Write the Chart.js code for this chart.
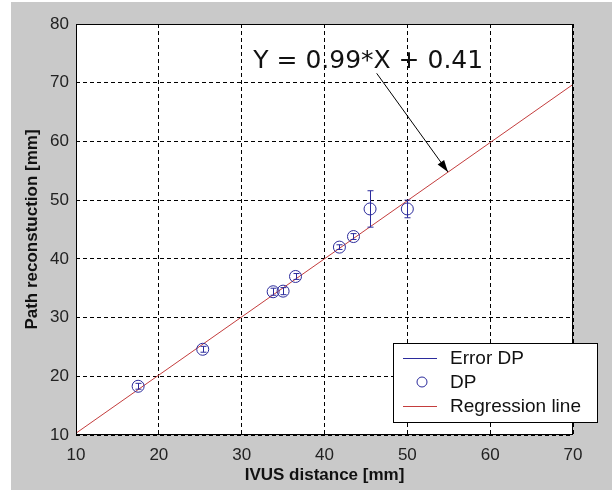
<!DOCTYPE html>
<html lang="en">
<head>
    <meta charset="UTF-8" />
    <title>IVUS distance x Path reconstruction</title>
    <script src="https://cdn.jsdelivr.net/npm/chart.js@4"></script>
    <style>
        html, body { margin: 0; padding: 0; background: #fff; }
        #wrap { width: 612px; height: 490px; }
    </style>
</head>
<body>
<div id="wrap"><canvas id="grafico" width="612" height="490"></canvas></div>

<script>
    // pontos medidos: distancia IVUS (x) e caminho reconstruido (y), em mm
    const ivus = [17.5, 25.3, 33.8, 35.0, 36.5, 41.8, 43.5, 45.5, 50.0];
    const caminho = [18.3, 24.6, 34.4, 34.5, 37.0, 42.0, 43.8, 48.5, 48.5];
    // limites das barras de erro
    const erroBaixo = [17.8, 24.1, 33.8, 33.9, 36.5, 41.6, 43.3, 45.4, 47.0];
    const erroAlto = [18.8, 25.1, 35.0, 35.1, 37.5, 42.4, 44.3, 51.6, 50.0];

    // reta de regressao Y = 0.99*X + 0.41
    const regX = [10, 70];
    const regY = [10.31, 69.71];

    const ticksX = [10, 20, 30, 40, 50, 60, 70];
    const ticksY = [10, 20, 30, 40, 50, 60, 70, 80];

    const legendas = ['Error DP', 'DP', 'Regression line'];
    const textoEquacao = 'Y = 0.99*X + 0.41';

    const corPonto = '#2b2b9c';
    const corReta = '#c43d3d';
    const fonte = '"Liberation Sans", Arial, sans-serif';

    // fundo cinza + area branca
    const fundo = {
        id: 'fundo',
        beforeDraw(chart) {
            const ctx = chart.ctx;
            const a = chart.chartArea;
            ctx.save();
            ctx.fillStyle = '#ffffff';
            ctx.fillRect(0, 0, chart.width, chart.height);
            ctx.fillStyle = '#c9c9c9';
            ctx.fillRect(11, 2, chart.width - 11, chart.height - 2);
            ctx.fillStyle = '#ffffff';
            ctx.fillRect(a.left, a.top, a.right - a.left, a.bottom - a.top);
            ctx.restore();
        }
    };

    // barras de erro desenhadas com as escalas do grafico
    const barrasErro = {
        id: 'barrasErro',
        afterDatasetsDraw(chart) {
            const ctx = chart.ctx;
            const sx = chart.scales.x;
            const sy = chart.scales.y;
            ctx.save();
            ctx.strokeStyle = corPonto;
            ctx.lineWidth = 1;
            for (let i = 0; i < ivus.length; i++) {
                const px = Math.round(sx.getPixelForValue(ivus[i])) + 0.5;
                const y1 = sy.getPixelForValue(erroBaixo[i]);
                const y2 = sy.getPixelForValue(erroAlto[i]);
                ctx.beginPath();
                ctx.moveTo(px, y1);
                ctx.lineTo(px, y2);
                ctx.moveTo(px - 3, y1);
                ctx.lineTo(px + 3, y1);
                ctx.moveTo(px - 3, y2);
                ctx.lineTo(px + 3, y2);
                ctx.stroke();
            }
            ctx.restore();
        }
    };

    // moldura, equacao com seta e legenda
    const extras = {
        id: 'extras',
        afterDraw(chart) {
            const ctx = chart.ctx;
            const a = chart.chartArea;
            const sx = chart.scales.x;
            const sy = chart.scales.y;
            ctx.save();

            ctx.strokeStyle = '#000';
            ctx.lineWidth = 1;
            ctx.strokeRect(a.left + 0.5, a.top + 0.5, a.right - a.left - 1, a.bottom - a.top - 1);

            // equacao
            ctx.fillStyle = '#111';
            ctx.font = '25px "DejaVu Sans", sans-serif';
            ctx.textBaseline = 'alphabetic';
            ctx.textAlign = 'left';
            ctx.fillText(textoEquacao, sx.getPixelForValue(31.4), sy.getPixelForValue(72.5));

            // seta ate a reta
            const x0 = sx.getPixelForValue(46.3), y0 = sy.getPixelForValue(71.6);
            const x1 = sx.getPixelForValue(54.9), y1 = sy.getPixelForValue(54.8);
            const ang = Math.atan2(y1 - y0, x1 - x0);
            ctx.strokeStyle = '#000';
            ctx.beginPath();
            ctx.moveTo(x0, y0);
            ctx.lineTo(x1, y1);
            ctx.stroke();
            ctx.fillStyle = '#000';
            ctx.beginPath();
            ctx.moveTo(x1, y1);
            ctx.lineTo(x1 - 12 * Math.cos(ang) + 4 * Math.sin(ang), y1 - 12 * Math.sin(ang) - 4 * Math.cos(ang));
            ctx.lineTo(x1 - 12 * Math.cos(ang) - 4 * Math.sin(ang), y1 - 12 * Math.sin(ang) + 4 * Math.cos(ang));
            ctx.closePath();
            ctx.fill();

            // legenda
            const lx = 393, ly = 343, lw = 204, lh = 79;
            ctx.fillStyle = '#fff';
            ctx.fillRect(lx, ly, lw, lh);
            ctx.strokeStyle = '#000';
            ctx.strokeRect(lx + 0.5, ly + 0.5, lw, lh);
            const linhas = [358, 382, 406];
            ctx.font = '19px ' + fonte;
            ctx.textBaseline = 'middle';
            for (let i = 0; i < legendas.length; i++) {
                const yy = linhas[i];
                if (i === 1) {
                    ctx.strokeStyle = corPonto;
                    ctx.beginPath();
                    ctx.arc(422, yy, 5, 0, Math.PI * 2);
                    ctx.stroke();
                } else {
                    ctx.strokeStyle = i === 0 ? corPonto : corReta;
                    ctx.beginPath();
                    ctx.moveTo(403, yy + 0.5);
                    ctx.lineTo(437, yy + 0.5);
                    ctx.stroke();
                }
                ctx.fillStyle = '#111';
                ctx.fillText(legendas[i], 450, yy + 1);
            }
            ctx.restore();
        }
    };

    const pontos = ivus.map((v, i) => ({ x: v, y: caminho[i] }));
    const reta = regX.map((v, i) => ({ x: v, y: regY[i] }));

    const config = {
        type: 'scatter',
        data: {
            datasets: [{
                label: 'DP',
                data: pontos,
                order: 0,
                showLine: false,
                pointStyle: 'circle',
                pointRadius: 6,
                borderColor: corPonto,
                backgroundColor: 'rgba(0,0,0,0)',
                borderWidth: 1
            }, {
                label: 'Regression line',
                data: reta,
                order: 1,
                showLine: true,
                pointRadius: 0,
                borderColor: corReta,
                borderWidth: 1,
                fill: false
            }]
        },
        options: {
            responsive: false,
            animation: false,
            layout: { padding: { top: 24, right: 39, left: 0, bottom: 0 } },
            plugins: {
                legend: { display: false },
                tooltip: { enabled: false }
            },
            scales: {
                x: {
                    type: 'linear',
                    min: 10,
                    max: 70,
                    afterBuildTicks: (s) => { s.ticks = ticksX.map(v => ({ value: v })); },
                    afterFit: (s) => { s.height = 55; },
                    grid: { color: '#000', lineWidth: 1, drawTicks: false },
                    border: { display: false, dash: [4, 3] },
                    ticks: { color: '#222', padding: 10, font: { family: fonte, size: 17 } },
                    title: {
                        display: true,
                        text: 'IVUS distance [mm]',
                        color: '#111',
                        padding: { top: 0, bottom: 4 },
                        font: { family: fonte, size: 17, weight: 'bold' }
                    }
                },
                y: {
                    type: 'linear',
                    min: 10,
                    max: 80,
                    afterBuildTicks: (s) => { s.ticks = ticksY.map(v => ({ value: v })); },
                    afterFit: (s) => { s.width = 76; },
                    grid: { color: '#000', lineWidth: 1, drawTicks: false },
                    border: { display: false, dash: [4, 3] },
                    ticks: { color: '#222', padding: 7, font: { family: fonte, size: 17 } },
                    title: {
                        display: true,
                        text: 'Path reconstuction [mm]',
                        color: '#111',
                        padding: { top: 22, bottom: 0 },
                        font: { family: fonte, size: 17, weight: 'bold' }
                    }
                }
            }
        },
        plugins: [fundo, barrasErro, extras]
    };

    new Chart(document.getElementById('grafico'), config);
</script>
</body>
</html>
